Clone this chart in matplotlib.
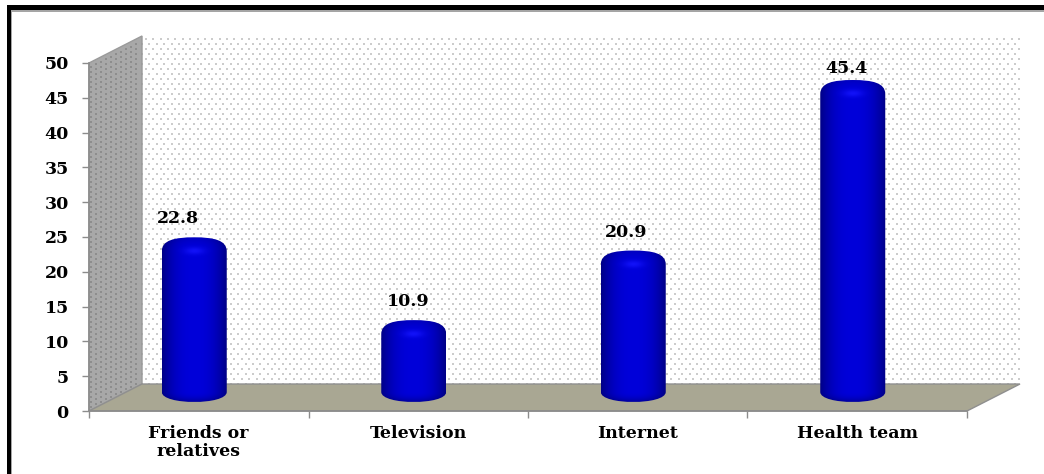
import numpy as np
import matplotlib
matplotlib.use("Agg")
import matplotlib.pyplot as plt
from matplotlib.patches import Polygon, PathPatch, Rectangle
from matplotlib.path import Path

categories = ["Friends or\nrelatives", "Television", "Internet", "Health team"]
values = [22.8, 10.9, 20.9, 45.4]
y_ticks = [0, 5, 10, 15, 20, 25, 30, 35, 40, 45, 50]
# value label nudges in pixels, the labels sit off centre in the original
label_dx = [-16, -6, -7, -6]
label_dy = [10, 10, 10, 3]

W, H = 1044, 474
# front plane of the 3d box, pixels
left, right, top, bottom = 89, 967, 63, 411

fig = plt.figure(figsize=(W / 100, H / 100), dpi=100)
ax = fig.add_axes([left / W, 1 - bottom / H, (right - left) / W, (bottom - top) / H])
ax.patch.set_alpha(0)

nx = len(categories)
px_x = nx / (right - left)
px_y = 50 / (bottom - top)
dx = 53 * px_x
dy = 27 * px_y

# back wall, side wall, floor
ax.add_patch(Polygon([(dx, dy), (nx + dx, dy), (nx + dx, 50 + dy), (dx, 50 + dy)],
                     fc="white", ec="none", clip_on=False, zorder=1))
ax.add_patch(Polygon([(0, 0), (dx, dy), (dx, 50 + dy), (0, 50)],
                     fc="#a8a8a8", ec="#9a9a9a", lw=1, clip_on=False, zorder=1))
ax.add_patch(Polygon([(0, 0), (nx, 0), (nx + dx, dy), (dx, dy)],
                     fc="#a9a793", ec="#8f8f8f", lw=1, clip_on=False, zorder=2))

# dot texture on the walls
gx, gy = np.meshgrid(np.arange(0, 878, 7.4), np.arange(0, 348, 5.0))
gx[1::2] += 3.7
back_x = dx + gx.ravel() * px_x
back_y = dy + gy.ravel() * px_y
ax.scatter(back_x, back_y, s=2.0, marker="s", c="#9a9a9a", linewidths=0, alpha=0.5,
           clip_on=False, zorder=1.5)
sx, sy = np.meshgrid(np.arange(2, 52, 5.0), np.arange(3, 348, 5.0))
side_x = sx.ravel() * px_x
side_y = sy.ravel() * px_y + side_x / dx * dy
ax.scatter(side_x, side_y, s=1.2, marker="s", c="#777777", linewidths=0, alpha=0.55,
           clip_on=False, zorder=1.5)

half_w = 32.5 * px_x
cap = 14 * px_y
base = 19 * px_y

u = np.linspace(-1, 1, 200)
rows = np.linspace(0, 50, 700)
uu, yy = np.meshgrid(u, rows)

for i, v in enumerate(values):
    cx = i + 0.5 - 4.5 * px_x
    ty = v + 1 * px_y
    verts = [(cx - half_w, base), (cx - half_w, ty),
             (cx - half_w, ty + cap * 0.8), (cx - half_w * 0.6, ty + cap), (cx, ty + cap),
             (cx + half_w * 0.6, ty + cap), (cx + half_w, ty + cap * 0.8), (cx + half_w, ty),
             (cx + half_w, base),
             (cx + half_w, base - cap * 0.95), (cx - half_w, base - cap * 0.95), (cx - half_w, base)]
    codes = [Path.MOVETO, Path.LINETO,
             Path.CURVE4, Path.CURVE4, Path.CURVE4,
             Path.CURVE4, Path.CURVE4, Path.CURVE4,
             Path.LINETO,
             Path.CURVE4, Path.CURVE4, Path.CURVE4]
    outline = PathPatch(Path(verts, codes), fc="none", ec="none")
    ax.add_patch(outline)

    # dark at the sides, bright in the middle, small highlight under the top rim
    blue = 218 - 85 * np.abs(uu) ** 2.4
    blue = blue - 30 * np.clip((yy - ty) / cap, 0, 1) ** 2
    blue = blue - 60 * np.clip((base - yy) / (10 * px_y), 0, 1) ** 2
    glow = np.exp(-(uu / 0.3) ** 2 - ((yy - ty) / (3.5 * px_y)) ** 2)
    img = np.zeros(uu.shape + (3,))
    img[..., 0] = 18 * glow / 255
    img[..., 1] = 18 * glow / 255
    img[..., 2] = np.clip(blue + 30 * glow, 0, 255) / 255
    im = ax.imshow(img, extent=[cx - half_w, cx + half_w, 0, 50], origin="lower", aspect="auto",
                   zorder=3, interpolation="bilinear")
    im.set_clip_path(outline)

    ax.text(cx + label_dx[i] * px_x, ty + cap + label_dy[i] * px_y, f"{v}", ha="center", va="bottom",
            family="DejaVu Serif", fontweight="bold", fontsize=12.5, color="black", zorder=5)

ax.set_xlim(0, nx)
ax.set_ylim(0, 50)

for s in ["top", "right"]:
    ax.spines[s].set_visible(False)
for s in ["left", "bottom"]:
    ax.spines[s].set_color("#8c8c8c")
    ax.spines[s].set_linewidth(1.2)

ax.set_yticks(y_ticks)
ax.set_xticks(np.arange(nx + 1))
ax.set_xticklabels([])
ax.tick_params(axis="both", color="#8c8c8c", length=5, width=1, labelcolor="black")
for lab in ax.get_yticklabels():
    lab.set_family("DejaVu Serif")
    lab.set_fontweight("bold")
    lab.set_fontsize(12.5)
ax.tick_params(axis="y", pad=9.5)

for i, c in enumerate(categories):
    ax.annotate(c, xy=(i + 0.5, 0), xytext=(0, -10), textcoords="offset points",
                ha="center", va="top", family="DejaVu Serif", fontweight="bold",
                fontsize=12.5, linespacing=1.1, annotation_clip=False)

# black frame of the picture with its thin grey inner line
frame = fig.add_axes([0, 0, 1, 1], zorder=-1)
frame.set_xlim(0, W)
frame.set_ylim(H, 0)
frame.axis("off")
frame.add_patch(Rectangle((11, 9), W - 11, 2.5, fc="#a5a5a5", ec="none"))
frame.add_patch(Rectangle((11, 9), 1.2, H - 9, fc="#a5a5a5", ec="none"))
frame.add_patch(Rectangle((7, 5), W - 7, 5, fc="black", ec="none"))
frame.add_patch(Rectangle((7, 5), 4, H - 5, fc="black", ec="none"))

fig.savefig("out.png", dpi=100)
